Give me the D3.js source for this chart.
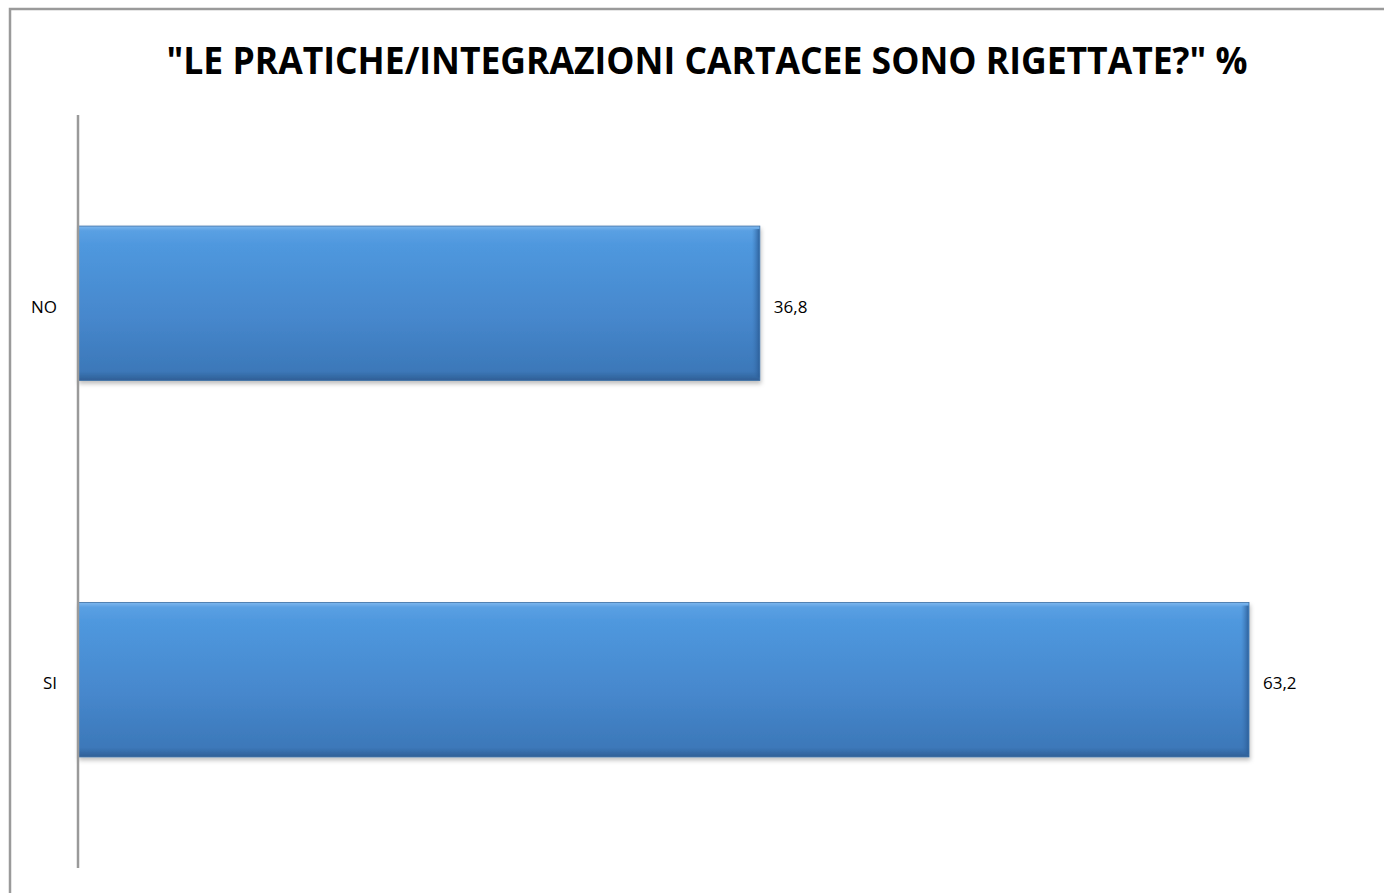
<!DOCTYPE html>
<html><head><meta charset="utf-8">
<script src="https://cdn.jsdelivr.net/npm/d3@7/dist/d3.min.js"></script>
<style>html,body{margin:0;padding:0;background:#fff;}svg{display:block;}</style>
</head><body>
<script>
const categories = ["NO", "SI"];
const values = [36.8, 63.2];
const valueLabels = ["36,8", "63,2"];
const titleText = '"LE PRATICHE/INTEGRAZIONI CARTACEE SONO RIGETTATE?" %';

const W = 1384, H = 893;
const svg = d3.select("body").append("svg").attr("width", W).attr("height", H);
const defs = svg.append("defs");

const g1 = defs.append("linearGradient").attr("id","barGrad").attr("x1",0).attr("y1",0).attr("x2",0).attr("y2",1);
[[0,"#7db7ee"],[0.03,"#5aa0e3"],[0.12,"#4f98de"],[0.6,"#4687cc"],[0.94,"#3c78b9"],[1,"#2f5f96"]]
  .forEach(([o,c])=>g1.append("stop").attr("offset",o).attr("stop-color",c));
const g2 = defs.append("linearGradient").attr("id","edgeR").attr("x1",0).attr("y1",0).attr("x2",1).attr("y2",0);
[[0,"#3a74b3",0],[1,"#2c5e98",0.9]].forEach(([o,c,a])=>g2.append("stop").attr("offset",o).attr("stop-color",c).attr("stop-opacity",a));
const f = defs.append("filter").attr("id","shadow").attr("x","-5%").attr("y","-10%").attr("width","110%").attr("height","130%");
f.append("feDropShadow").attr("dx",1).attr("dy",3).attr("stdDeviation",2).attr("flood-color","#000").attr("flood-opacity",0.25);

// outer frame
svg.append("path").attr("d", `M10,${H} L10,9 L${W},9`).attr("fill","none").attr("stroke","#9a9a9a").attr("stroke-width",2.5);

const x = d3.scaleLinear().domain([0, 70]).range([78, 1375]);
const y = d3.scaleBand().domain(categories).range([115, 868]).paddingInner(0.59).paddingOuter(0.295);

const bars = svg.append("g").selectAll("g").data(categories).join("g");
bars.append("rect")
  .attr("x", x(0)).attr("y", d=>y(d))
  .attr("width", (d,i)=>x(values[i])-x(0)).attr("height", y.bandwidth())
  .attr("fill","url(#barGrad)").attr("stroke","#3a6ea5").attr("stroke-width",0.8)
  .attr("filter","url(#shadow)");
bars.append("rect")
  .attr("x", (d,i)=>x(values[i])-8).attr("y", d=>y(d)+3)
  .attr("width", 7.5).attr("height", y.bandwidth()-6)
  .attr("fill","url(#edgeR)");

// axis
const axis = svg.append("g").attr("transform", `translate(${x(0)},0)`)
  .call(d3.axisLeft(y).tickSize(0).tickPadding(21));
axis.select(".domain").attr("d", `M0,115V868`).attr("stroke","#9a9a9a").attr("stroke-width",2.5);
axis.selectAll("text").attr("font-family","'Open Sans', sans-serif").attr("font-size",17).attr("fill","#000").attr("dy","0.55em");

// value labels
svg.append("g").selectAll("text").data(categories).join("text")
  .attr("x",(d,i)=>x(values[i])+14).attr("y", d=>y(d)+y.bandwidth()/2)
  .attr("dy","0.55em")
  .attr("font-family","'Open Sans', sans-serif").attr("font-size",17).attr("fill","#000")
  .text((d,i)=>valueLabels[i]);

// title
svg.append("text").attr("x", 707).attr("y", 74).attr("text-anchor","middle")
  .attr("font-family","'Open Sans', sans-serif").attr("font-weight","bold").attr("font-size",38)
  .attr("textLength",1081).attr("lengthAdjust","spacingAndGlyphs")
  .text(titleText);
</script>
</body></html>
